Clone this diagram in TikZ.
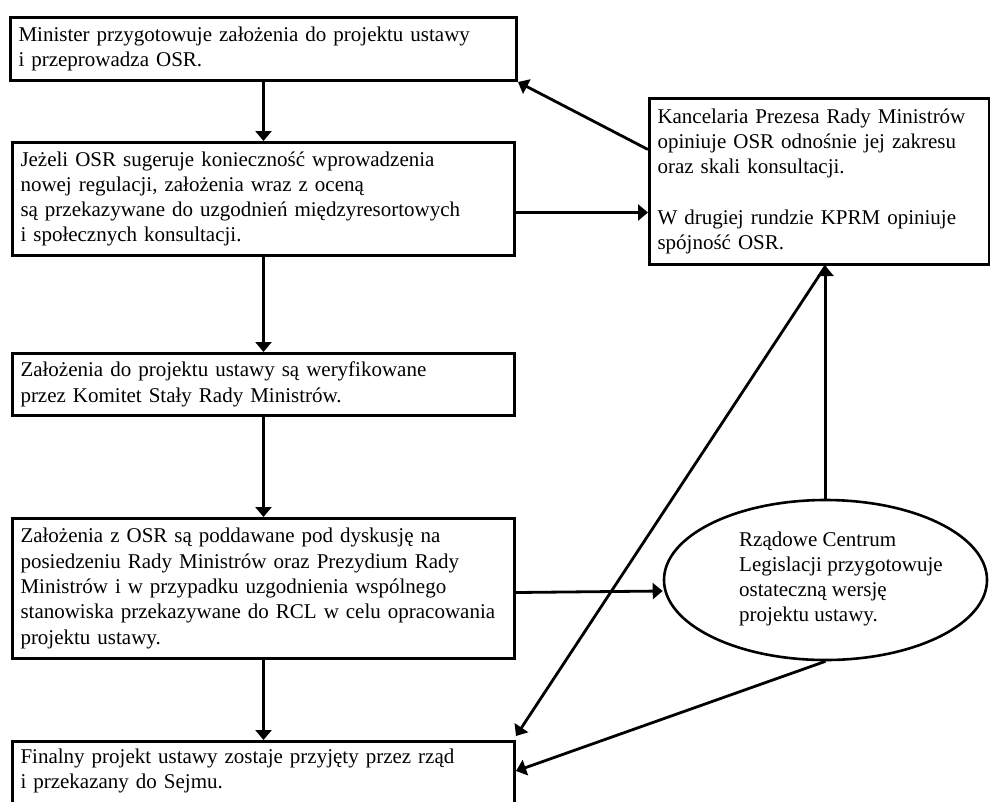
\documentclass[tikz,border=0pt]{standalone}
\usepackage{fontspec}
\setmainfont{Liberation Serif}
\usetikzlibrary{arrows.meta,shapes.geometric}
\newcommand{\diagfont}{\fontsize{21}{25.3}\selectfont}
\begin{document}
\begin{tikzpicture}[x=1pt,y=-1pt,
  box/.style={draw, line width=3pt, rectangle, inner xsep=8pt, inner ysep=0pt,
              align=left, anchor=north west, font=\diagfont},
  arr/.style={line width=2.8pt, -{Triangle[length=10pt,width=16pt]}},
]
\useasboundingbox (0,0) rectangle (990,801);
\node[box, text width=490pt, minimum height=63pt] (b1) at (9,16)
  {Minister przygotowuje założenia do projektu ustawy\\i przeprowadza OSR.};
\node[box, text width=486pt, minimum height=113pt] (b2) at (11,141)
  {Jeżeli OSR sugeruje konieczność wprowadzenia\\nowej regulacji, założenia wraz z oceną\\są przekazywane do uzgodnień międzyresortowych\\i społecznych konsultacji.};
\node[box, text width=486pt, minimum height=62pt] (b3) at (11,352)
  {Założenia do projektu ustawy są weryfikowane\\przez Komitet Stały Rady Ministrów.};
\node[box, text width=486pt, minimum height=140pt] (b4) at (11,517)
  {Założenia z OSR są poddawane pod dyskusję na\\posiedzeniu Rady Ministrów oraz Prezydium Rady\\Ministrów i w przypadku uzgodnienia wspólnego\\stanowiska przekazywane do RCL w celu opracowania\\projektu ustawy.};
\node[box, text width=486pt, text height=22pt, text depth=50pt] (b5) at (11,740)
  {Finalny projekt ustawy zostaje przyjęty przez rząd\\i przekazany do Sejmu.};
\node[box, text width=324pt, minimum height=166pt] (kprm) at (648,97)
  {Kancelaria Prezesa Rady Ministrów\\opiniuje OSR odnośnie jej zakresu\\oraz skali konsultacji.\\[25.3pt]W drugiej rundzie KPRM opiniuje\\spójność OSR.};
\node[draw, ellipse, line width=2.6pt, minimum width=323pt, minimum height=160pt, inner sep=0pt] (rcl) at (825.5,580) {};
\node[align=left, anchor=west, inner sep=0pt, font=\diagfont] (rcltxt) at (739,579)
  {Rządowe Centrum\\Legislacji przygotowuje\\ostateczną wersję\\projektu ustawy.};
\draw[arr] (b1.south) -- (b2.north);
\draw[arr] (b2.south) -- (b3.north);
\draw[arr] (b3.south) -- (b4.north);
\draw[arr] (b4.south) -- (b5.north);
\draw[arr] ([yshift=32pt]kprm.west) -- (b1.south east);
\draw[arr] ([yshift=-13.5pt]b2.east) -- ([yshift=-31pt]kprm.west);
\draw[arr] ([yshift=-4pt]b4.east) -- ([yshift=-11pt]rcl.west);
\draw[arr] (rcl.north) -- (rcl.north |- kprm.south);
\draw[arr] (rcl.north |- kprm.south) -- ([yshift=4pt]b5.north east);
\draw[arr] (rcl.south) -- ([yshift=-31pt]b5.north east);
\end{tikzpicture}
\end{document}
